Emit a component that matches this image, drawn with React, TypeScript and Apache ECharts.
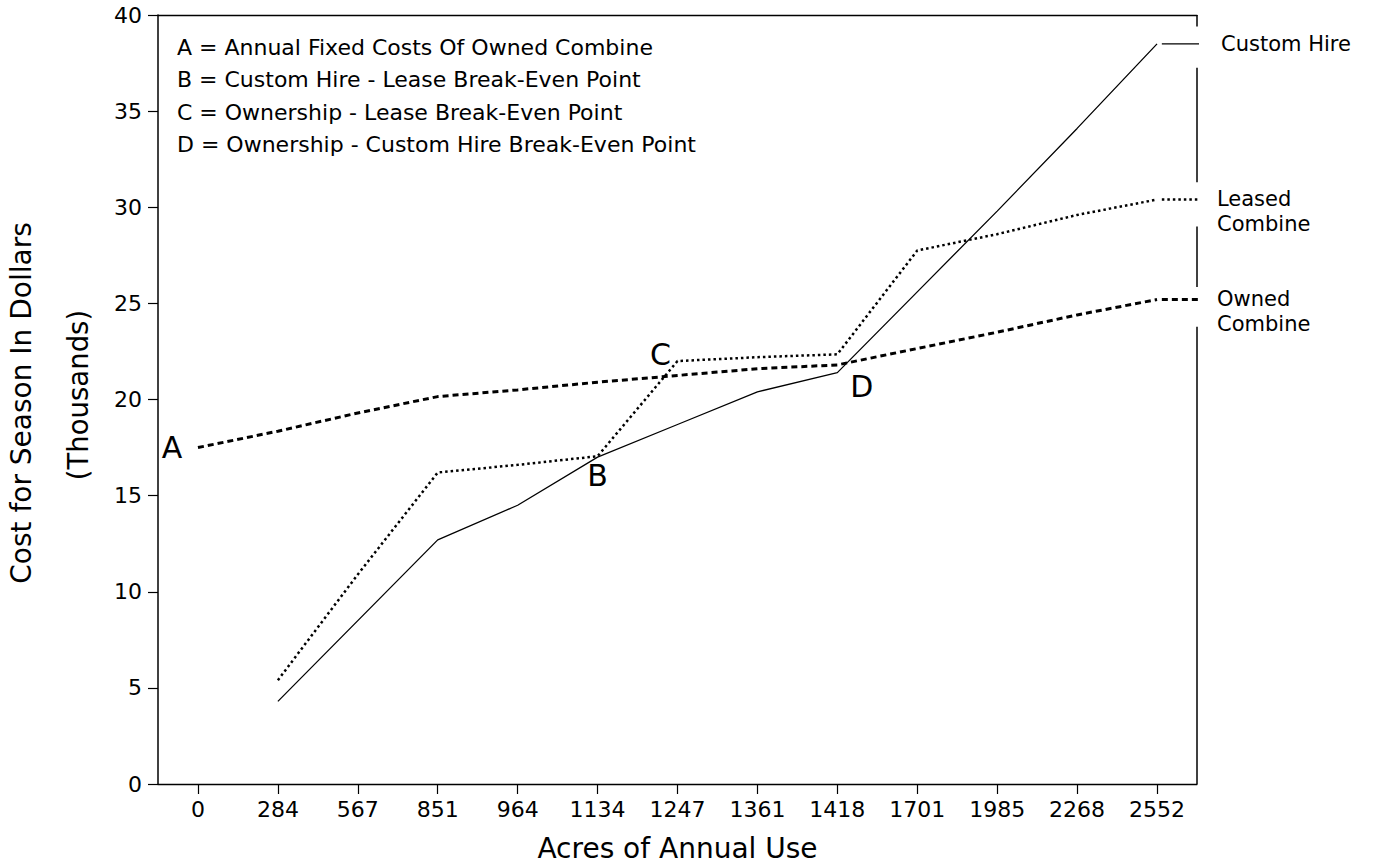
import React, { useEffect, useRef } from "react";
import * as echarts from "echarts";

const categories = ["0", "284", "567", "851", "964", "1134", "1247", "1361", "1418", "1701", "1985", "2268", "2552"];
const customHire = [null, 4.3, 8.5, 12.7, 14.5, 17.0, 18.7, 20.4, 21.4, 25.6, 29.8, 34.1, 38.5];
const leased = [null, 5.4, 10.9, 16.2, 16.6, 17.05, 22.0, 22.2, 22.35, 27.75, 28.6, 29.6, 30.4];
const owned = [17.5, 18.35, 19.3, 20.15, 20.5, 20.9, 21.25, 21.6, 21.8, 22.65, 23.5, 24.4, 25.2];

const legendLines = [
  "A = Annual Fixed Costs Of Owned Combine",
  "B = Custom Hire - Lease Break-Even Point",
  "C = Ownership - Lease Break-Even Point",
  "D = Ownership - Custom Hire Break-Even Point",
];

const pointNames = ["A", "B", "C", "D"];
const pointX = [0, 5, 6, 8.13];
const pointY = [17.5, 17.0, 22.0, 22.0];

const endNames = ["Custom Hire", "Leased\nCombine", "Owned\nCombine"];

// right frame pieces (value ranges of the broken right border)
const rightFrame = [
  [40, 39.4],
  [37.26, 31.3],
  [29.0, 25.85],
  [23.78, 0],
];

const FONT = "DejaVu Sans";
const labelOffsets: Record<string, number[]> = {
  A: [-26, 0],
  B: [0, 18],
  C: [-17, -7],
  D: [14, 25],
};

export default function App() {
  const ref = useRef<HTMLDivElement>(null);
  useEffect(() => {
    document.body.style.margin = "0";
    const chart = echarts.init(ref.current!, undefined, { renderer: "svg" });
    const last = categories.length - 1;
    const leaderStart = last + 0.06;
    const leaderEnd = last + 0.6;
    const lastVals = [customHire[last], leased[last], owned[last]] as number[];

    const leaderStyles = [
      { type: "solid", width: 1.3 },
      { type: [2.5, 3], width: 2.5 },
      { type: [6, 4], width: 3 },
    ];
    const endOffsets = [[6, 0], [2, 12], [2, 12]];

    const leaders = lastVals.map((v, k) => ({
      type: "line",
      xAxisIndex: 1,
      data: [
        [leaderStart, v],
        [leaderEnd, v],
      ],
      symbol: "none",
      clip: false,
      silent: true,
      lineStyle: { color: "#000", ...leaderStyles[k] },
      endLabel: {
        show: true,
        formatter: endNames[k],
        color: "#000",
        fontFamily: FONT,
        fontSize: 21,
        lineHeight: 25,
        distance: 16,
        offset: endOffsets[k],
      },
    }));

    const frames = rightFrame.map((r) => ({
      type: "line",
      xAxisIndex: 1,
      data: [
        [last + 0.5, r[0]],
        [last + 0.5, r[1]],
      ],
      symbol: "none",
      clip: false,
      silent: true,
      lineStyle: { color: "#000", width: 1.5 },
    }));

    const option: any = {
      animation: false,
      backgroundColor: "#fff",
      grid: { left: 158, right: 176, top: 15, bottom: 80 },
      xAxis: [
        {
          type: "category",
          data: categories,
          boundaryGap: true,
          position: "bottom",
          axisLine: { show: true, onZero: false, lineStyle: { color: "#000", width: 1.3 } },
          axisTick: { show: true, alignWithLabel: true, length: 10, lineStyle: { color: "#000", width: 1.2 } },
          axisLabel: { color: "#000", fontSize: 22, fontFamily: FONT, margin: 14, interval: 0 },
          splitLine: { show: false },
          name: "Acres of Annual Use",
          nameLocation: "middle",
          nameGap: 50,
          nameTextStyle: { color: "#000", fontSize: 28, fontFamily: FONT },
        },
        {
          type: "value",
          min: -0.5,
          max: last + 0.5,
          position: "top",
          axisLine: { show: true, onZero: false, lineStyle: { color: "#000", width: 1.3 } },
          axisTick: { show: false },
          axisLabel: { show: false },
          splitLine: { show: false },
        },
      ],
      yAxis: {
        type: "value",
        min: 0,
        max: 40,
        interval: 5,
        axisLine: { show: true, onZero: false, lineStyle: { color: "#000", width: 1.5 } },
        axisTick: { show: true, length: 10, lineStyle: { color: "#000", width: 1.2 } },
        axisLabel: { color: "#000", fontSize: 22, fontFamily: FONT, margin: 16 },
        splitLine: { show: false },
      },
      graphic: [
        ...legendLines.map((t, i) => ({
          type: "text",
          x: 177,
          y: 47 + i * 32.5,
          style: {
            text: t,
            fill: "#000",
            fontSize: 22,
            fontFamily: FONT,
            align: "left",
            verticalAlign: "middle",
            textAlign: "left",
            textVerticalAlign: "middle",
          },
        })),
        {
          type: "text",
          x: 21,
          y: 403,
          rotation: Math.PI / 2,
          style: {
            text: "Cost for Season In Dollars",
            fill: "#000",
            fontSize: 28,
            fontFamily: FONT,
            align: "center",
            verticalAlign: "middle",
            textAlign: "center",
            textVerticalAlign: "middle",
          },
        },
        {
          type: "text",
          x: 78,
          y: 395,
          rotation: Math.PI / 2,
          style: {
            text: "(Thousands)",
            fill: "#000",
            fontSize: 27.5,
            fontFamily: FONT,
            align: "center",
            verticalAlign: "middle",
            textAlign: "center",
            textVerticalAlign: "middle",
          },
        },
      ],
      series: [
        {
          name: "Custom Hire",
          type: "line",
          data: customHire,
          symbol: "none",
          lineStyle: { color: "#000", width: 1.3, type: "solid" },
        },
        {
          name: "Leased Combine",
          type: "line",
          data: leased,
          symbol: "none",
          lineStyle: { color: "#000", width: 2.5, type: [2.5, 3] },
        },
        {
          name: "Owned Combine",
          type: "line",
          data: owned,
          symbol: "none",
          lineStyle: { color: "#000", width: 3, type: [6, 4] },
        },
        ...leaders,
        ...frames,
        {
          type: "scatter",
          xAxisIndex: 1,
          symbolSize: 1,
          itemStyle: { color: "#000", opacity: 0 },
          silent: true,
          data: pointNames.map((n, i) => ({
            name: n,
            value: [pointX[i], pointY[i]],
            label: { offset: labelOffsets[n] },
          })),
          label: {
            show: true,
            position: "inside",
            formatter: "{b}",
            color: "#000000",
            opacity: 1,
            textBorderWidth: 0,
            fontSize: 30,
            fontFamily: FONT,
          },
        },
      ],
    };
    chart.setOption(option);
    return () => chart.dispose();
  }, []);
  return <div ref={ref} style={{ width: 1373, height: 867 }} />;
}
